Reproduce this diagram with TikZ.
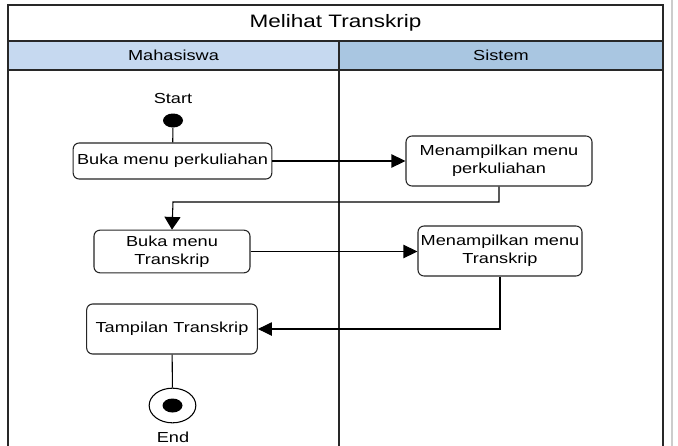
\documentclass[tikz,border=0pt]{standalone}
\usepackage{fontspec}
\setmainfont{Liberation Sans}[FakeStretch=1.25]
\usetikzlibrary{arrows.meta,shapes.geometric}
\definecolor{laneA}{RGB}{198,217,240}
\definecolor{laneB}{RGB}{169,198,225}
\definecolor{frame}{RGB}{40,40,40}
\tikzset{
  act/.style={draw=black!85, line width=0.8pt, rounded corners=4.5pt, fill=white, align=center, inner sep=1pt, font=\fontsize{10.9}{13.5}\selectfont},
  flow/.style={line width=0.8pt, -{Triangle[length=10.5pt,width=10pt]}},
  vflow/.style={line width=0.8pt, -{Triangle[length=9.5pt,width=12pt]}},
  plain/.style={line width=0.8pt},
  lbl/.style={font=\fontsize{10.9}{13}\selectfont, inner sep=0pt},
  startdot/.style={ellipse, fill=black, minimum width=15pt, minimum height=10.5pt, inner sep=0pt},
  enddot/.style={ellipse, draw=black, line width=0.8pt, minimum width=35pt, minimum height=26pt, inner sep=0pt},
}
\begin{document}
\begin{tikzpicture}[x=0.75pt,y=-0.75pt]
\useasboundingbox (0,0) rectangle (678,446);
\fill[white] (0,0) rectangle (678,446);
% header fills
\fill[laneA] (8,41) rectangle (339,70);
\fill[laneB] (339,41) rectangle (663,70);
% frame
\draw[frame, line width=0.9pt] (8,446) -- (8,5) -- (663,5) -- (663,446);
\draw[frame, line width=0.9pt] (8,41) -- (663,41);
\draw[frame, line width=0.9pt] (8,70) -- (663,70);
\draw[frame, line width=0.9pt] (339,41) -- (339,446);
\draw[black!20, line width=0.8pt] (672,0) -- (672,446);
\node[font=\fontsize{13.5}{15}\selectfont] (title) at (335.5,23) {Melihat Transkrip};
\node[lbl] (laneM) at (173.5,55.5) {Mahasiswa};
\node[lbl] (laneS) at (501,55.5) {Sistem};
% nodes
\node[lbl] (startlbl) at (173,98) {Start};
\node[startdot] (start) at (173,120.5) {};
\node[act, minimum width=149pt, minimum height=27pt] (b1) at (172.5,161) {Buka menu perkuliahan};
\node[act, minimum width=139.5pt, minimum height=37.5pt] (s1) at (499,161) {Menampilkan menu\\perkuliahan};
\node[act, minimum width=117pt, minimum height=32pt] (b2) at (172,251.5) {Buka menu\\Transkrip};
\node[act, minimum width=123pt, minimum height=37.5pt] (s2) at (500,251) {Menampilkan menu\\Transkrip};
\node[act, minimum width=128pt, minimum height=37.5pt] (b3) at (172,329) {Tampilan Transkrip};
\node[enddot] (end) at (172.5,405.5) {};
\fill (end.center) ellipse [x radius=7.5pt, y radius=5.25pt];
\node[lbl] (endlbl) at (173,437) {End};
% connectors
\draw[plain] (start) -- (b1);
\draw[flow] (b1) -- (s1);
\draw[vflow] (s1.south) |- (173,202) -- (b2.north);
\draw[flow] (b2) -- (s2.west |- b2);
\draw[flow] (s2.south) |- (b3.east);
\draw[plain] (b3) -- (end);
\end{tikzpicture}
\end{document}
